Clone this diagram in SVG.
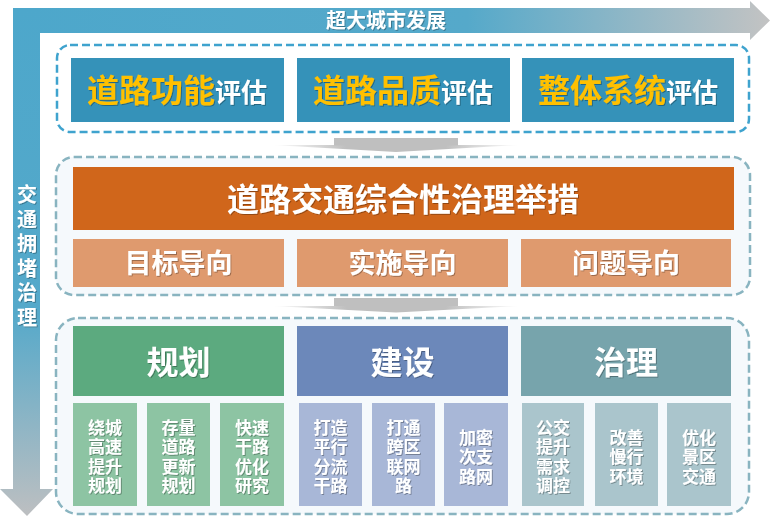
<svg xmlns="http://www.w3.org/2000/svg" width="771" height="517" viewBox="0 0 771 517">
<defs>
<linearGradient id="gH" gradientUnits="userSpaceOnUse" x1="13" y1="0" x2="770" y2="0">
<stop offset="0" stop-color="#4DA7CB"/><stop offset="0.6" stop-color="#55A9CA"/><stop offset="1" stop-color="#C3C3C3"/>
</linearGradient>
<linearGradient id="gV" gradientUnits="userSpaceOnUse" x1="0" y1="8" x2="0" y2="516">
<stop offset="0" stop-color="#4DA7CB"/><stop offset="0.6" stop-color="#55A9CA"/><stop offset="1" stop-color="#BDBFC1"/>
</linearGradient>
<linearGradient id="gHead" x1="0" y1="0" x2="1" y2="0">
<stop offset="0" stop-color="#BFBFBF" stop-opacity="0"/><stop offset="0.3" stop-color="#BFBFBF"/><stop offset="0.7" stop-color="#BFBFBF"/><stop offset="1" stop-color="#BFBFBF" stop-opacity="0"/>
</linearGradient>
<filter id="sh" x="-10%" y="-20%" width="120%" height="140%">
<feDropShadow dx="1" dy="1" stdDeviation="0.7" flood-color="#000" flood-opacity="0.3"/>
</filter>
</defs>
<style>
text{font-family:"Noto Sans CJK SC","Noto Sans",sans-serif;font-weight:bold;text-anchor:middle;fill:#fff}
.sec1{fill:#fff;stroke:#3FA3CE;stroke-width:2.5;stroke-dasharray:8 4}
.sec{fill:#F5F9FC;stroke:#89B4C0;stroke-width:2.5;stroke-dasharray:8 4}
.eval{fill:#3592B9}
.y{fill:#FFC000}
.t1{font-size:32px}
.t1w{font-size:26px}
.small{font-size:17px}
.g1{fill:#8DC4A3}.g2{fill:#A8B7D7}.g3{fill:#AAC5CC}
</style>

<g id="band-top">
<path d="M13,8 H750 V1 L770,20.5 L750,40 V33 H13 Z" fill="url(#gH)"/>
<text x="386" y="28" font-size="20" filter="url(#sh)">超大城市发展</text>
</g>
<g id="band-left">
<path d="M13,8 H40 V489 H53 L27,516 L0,489 H13 Z" fill="url(#gV)"/>
<g font-size="20" filter="url(#sh)">
<text x="27" y="202">交</text>
<text x="27" y="226.5">通</text>
<text x="27" y="251">拥</text>
<text x="27" y="275.5">堵</text>
<text x="27" y="300">治</text>
<text x="27" y="324.5">理</text>
</g>
</g>

<g id="connectors">
<g id="arrow1"><rect x="334" y="138" width="124" height="7.5" fill="#BFBFBF"/><path d="M272,145 H520 L396,152 Z" fill="url(#gHead)"/></g>
<g id="arrow2"><rect x="334" y="298" width="124" height="8" fill="#BFBFBF"/><path d="M272,306 H520 L396,312.5 Z" fill="url(#gHead)"/></g>
</g>

<g id="section-eval">
<rect class="sec1" x="57" y="45" width="692" height="87" rx="13"/>
<g id="eval-func"><rect class="eval" x="71" y="58" width="213" height="64"/>
<text x="177" y="102" filter="url(#sh)"><tspan class="y t1">道路功能</tspan><tspan class="t1w">评估</tspan></text></g>
<g id="eval-quality"><rect class="eval" x="297" y="58" width="213" height="64"/>
<text x="403" y="102" filter="url(#sh)"><tspan class="y t1">道路品质</tspan><tspan class="t1w">评估</tspan></text></g>
<g id="eval-system"><rect class="eval" x="522" y="58" width="212" height="64"/>
<text x="628" y="102" filter="url(#sh)"><tspan class="y t1">整体系统</tspan><tspan class="t1w">评估</tspan></text></g>
</g>

<g id="section-measures">
<rect class="sec" x="56" y="157" width="694" height="138" rx="18"/>
<g id="measures-title"><rect x="73" y="167" width="661" height="63" fill="#D0661B"/>
<text x="403" y="211" font-size="32" filter="url(#sh)">道路交通综合性治理举措</text></g>
<g id="goal"><rect x="73" y="239" width="211" height="48" fill="#DF9A6E"/><text x="178.5" y="273" font-size="27" filter="url(#sh)">目标导向</text></g>
<g id="impl"><rect x="297" y="239" width="211" height="48" fill="#DF9A6E"/><text x="402.5" y="273" font-size="27" filter="url(#sh)">实施导向</text></g>
<g id="problem"><rect x="521" y="239" width="210" height="48" fill="#DF9A6E"/><text x="626" y="273" font-size="27" filter="url(#sh)">问题导向</text></g>
</g>

<g id="section-actions">
<rect class="sec" x="56" y="318" width="693" height="196" rx="22"/>
<g id="plan"><rect x="73" y="326" width="211" height="70" fill="#5CAA7F"/><text x="178.5" y="374" font-size="32" filter="url(#sh)">规划</text></g>
<g id="build"><rect x="297" y="326" width="211" height="70" fill="#6C88BA"/><text x="402.5" y="374" font-size="32" filter="url(#sh)">建设</text></g>
<g id="govern"><rect x="521" y="326" width="210" height="70" fill="#77A4AC"/><text x="626" y="374" font-size="32" filter="url(#sh)">治理</text></g>

<g id="p1"><rect class="g1" x="73" y="403" width="64" height="103"/>
<text class="small" x="105" filter="url(#sh)"><tspan x="105" y="433.5">绕城</tspan><tspan x="105" y="453">高速</tspan><tspan x="105" y="472.5">提升</tspan><tspan x="105" y="492">规划</tspan></text></g>
<g id="p2"><rect class="g1" x="147" y="403" width="63" height="103"/>
<text class="small" x="178.5" filter="url(#sh)"><tspan x="178.5" y="433.5">存量</tspan><tspan x="178.5" y="453">道路</tspan><tspan x="178.5" y="472.5">更新</tspan><tspan x="178.5" y="492">规划</tspan></text></g>
<g id="p3"><rect class="g1" x="220" y="403" width="64" height="103"/>
<text class="small" x="252" filter="url(#sh)"><tspan x="252" y="433.5">快速</tspan><tspan x="252" y="453">干路</tspan><tspan x="252" y="472.5">优化</tspan><tspan x="252" y="492">研究</tspan></text></g>

<g id="b1"><rect class="g2" x="299" y="403" width="63" height="103"/>
<text class="small" x="330.5" filter="url(#sh)"><tspan x="330.5" y="433.5">打造</tspan><tspan x="330.5" y="453">平行</tspan><tspan x="330.5" y="472.5">分流</tspan><tspan x="330.5" y="492">干路</tspan></text></g>
<g id="b2"><rect class="g2" x="372" y="403" width="63" height="103"/>
<text class="small" x="403.5" filter="url(#sh)"><tspan x="403.5" y="433.5">打通</tspan><tspan x="403.5" y="453">跨区</tspan><tspan x="403.5" y="472.5">联网</tspan><tspan x="403.5" y="492">路</tspan></text></g>
<g id="b3"><rect class="g2" x="444" y="403" width="64" height="103"/>
<text class="small" x="476" filter="url(#sh)"><tspan x="476" y="443.5">加密</tspan><tspan x="476" y="463">次支</tspan><tspan x="476" y="482.5">路网</tspan></text></g>

<g id="g1"><rect class="g3" x="522" y="403" width="62" height="103"/>
<text class="small" x="553" filter="url(#sh)"><tspan x="553" y="433.5">公交</tspan><tspan x="553" y="453">提升</tspan><tspan x="553" y="472.5">需求</tspan><tspan x="553" y="492">调控</tspan></text></g>
<g id="g2"><rect class="g3" x="595" y="403" width="63" height="103"/>
<text class="small" x="626.5" filter="url(#sh)"><tspan x="626.5" y="443.5">改善</tspan><tspan x="626.5" y="463">慢行</tspan><tspan x="626.5" y="482.5">环境</tspan></text></g>
<g id="g3"><rect class="g3" x="667" y="403" width="64" height="103"/>
<text class="small" x="699" filter="url(#sh)"><tspan x="699" y="443.5">优化</tspan><tspan x="699" y="463">景区</tspan><tspan x="699" y="482.5">交通</tspan></text></g>
</g>
</svg>
